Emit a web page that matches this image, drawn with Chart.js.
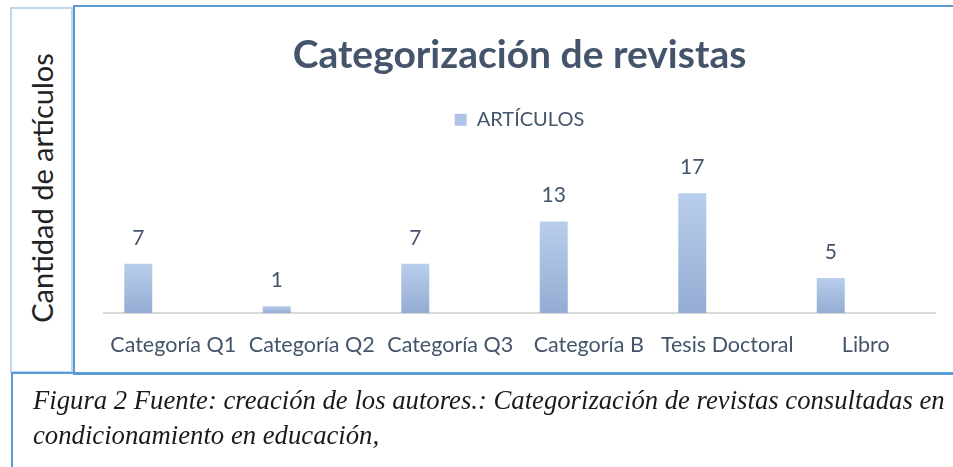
<!DOCTYPE html>
<html><head><meta charset="utf-8">
<script src="https://cdn.jsdelivr.net/npm/chart.js@4.4.1/dist/chart.umd.min.js"></script>
<style>
html,body{margin:0;padding:0;background:#fff;width:953px;height:467px;overflow:hidden;position:relative;font-family:Lato,sans-serif}
#ybox{position:absolute;left:10px;top:7px;width:59px;height:362px;border:2px solid #BDD7EE;box-sizing:content-box}
#mainbox{position:absolute;left:73px;top:5px;width:900px;height:366px;border:2px solid #5B9BD5}
#capbox{position:absolute;left:11px;top:372px;width:960px;height:120px;border:2px solid #5B9BD5}
#ylab{position:absolute;left:41px;top:188px;transform:translate(-50%,-50%) rotate(-90deg);white-space:nowrap;font-size:29px;color:#222;font-family:Lato,sans-serif}
#cap{position:absolute;left:33px;top:383px;font:italic 26.7px "Liberation Serif",serif;line-height:35px;color:#1a1a1a;white-space:nowrap}
#wrap{position:absolute;left:0;top:0;width:953px;height:400px}
</style>
</head><body>
<div id="ybox"></div>
<div id="mainbox"></div>
<div id="capbox"></div>
<div id="ylab"></div>
<div id="wrap"><canvas id="c" width="953" height="400"></canvas></div>
<div id="cap"></div>
<script>
const categories = ['Categoría Q1', 'Categoría Q2', 'Categoría Q3', 'Categoría B', 'Tesis Doctoral', 'Libro'];
const articulos = [7, 1, 7, 13, 17, 5];
const emptySeriesA = [null, null, null, null, null, null];
const emptySeriesB = [null, null, null, null, null, null];
const seriesName = 'ARTÍCULOS';
const chartTitle = 'Categorización de revistas';
const yAxisTitle = 'Cantidad de artículos';
const captionLines = [
  'Figura 2 Fuente: creación de los autores.: Categorización de revistas consultadas en',
  'condicionamiento en educación,'
];

document.getElementById('ylab').textContent = yAxisTitle;
document.getElementById('cap').innerHTML = captionLines.map(s => s.replace(/&/g,'&amp;').replace(/</g,'&lt;')).join('<br>');

const textColor = '#44546A';

function barFill(c) {
  const chart = c.chart;
  if (!chart.chartArea || c.raw == null) return '#A9BFE3';
  const y = chart.scales.y;
  const top = y.getPixelForValue(c.raw), base = y.getPixelForValue(0);
  const g = chart.ctx.createLinearGradient(0, top, 0, base);
  g.addColorStop(0, '#B9CEEC');
  g.addColorStop(1, '#94ACD3');
  return g;
}

const valueLabels = {
  id: 'valueLabels',
  afterDatasetsDraw(chart) {
    const ctx = chart.ctx;
    const meta = chart.getDatasetMeta(0);
    ctx.save();
    ctx.font = '21px Lato';
    ctx.fillStyle = textColor;
    ctx.textAlign = 'center';
    ctx.textBaseline = 'middle';
    meta.data.forEach((bar, i) => {
      ctx.fillText(String(articulos[i]), bar.x, bar.y - 26);
    });
    ctx.restore();
  }
};

new Chart(document.getElementById('c'), {
  type: 'bar',
  data: {
    labels: categories,
    datasets: [
      { label: seriesName, data: articulos, backgroundColor: barFill, barPercentage: 0.8, categoryPercentage: 0.758 },
      { label: '', data: emptySeriesA, backgroundColor: 'transparent', barPercentage: 0.8, categoryPercentage: 0.758 },
      { label: '', data: emptySeriesB, backgroundColor: 'transparent', barPercentage: 0.8, categoryPercentage: 0.758 }
    ]
  },
  options: {
    responsive: false,
    animation: false,
    layout: { padding: { left: 104, right: 18, top: 0, bottom: 23 } },
    plugins: {
      title: {
        display: true, text: chartTitle, color: textColor,
        font: { family: 'Lato', size: 39, weight: 'bold' },
        padding: { top: 32, bottom: 21 }
      },
      legend: {
        display: true,
        labels: {
          color: textColor, font: { family: 'Lato', size: 20 }, boxWidth: 12, boxHeight: 12, padding: 10,
          generateLabels: () => [{ text: seriesName, fillStyle: '#AFC4E6', strokeStyle: '#AFC4E6', lineWidth: 0, datasetIndex: 0, hidden: false, fontColor: textColor }]
        }
      },
      tooltip: { enabled: false }
    },
    scales: {
      x: {
        grid: { display: true, drawOnChartArea: false, drawTicks: false, color: 'transparent' },
        border: { display: true, color: '#D9D9D9', width: 2 },
        ticks: { color: textColor, font: { family: 'Lato', size: 21.5 }, padding: 19, maxRotation: 0, autoSkip: false }
      },
      y: { display: false, min: 0, max: 24.6 }
    }
  },
  plugins: [valueLabels]
});
</script>
</body></html>
